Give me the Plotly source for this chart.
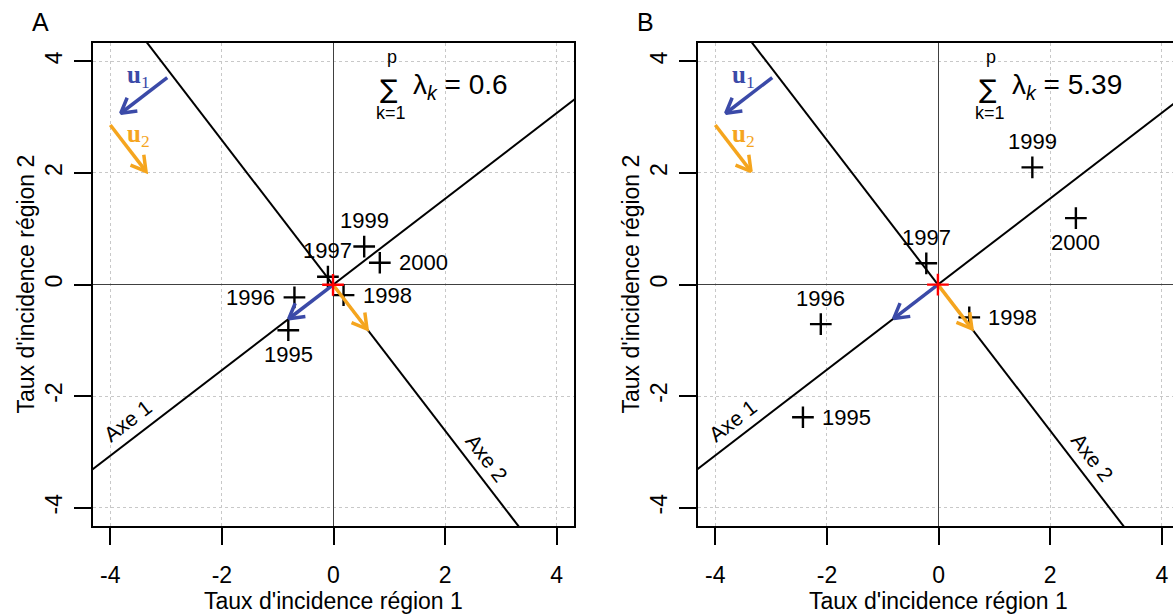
import numpy as np
import plotly.graph_objects as go

# ---------------- data ----------------
years = ["1995", "1996", "1997", "1998", "1999", "2000"]
region1_A = [-0.81, -0.70, -0.10, 0.18, 0.55, 0.83]
region2_A = [-0.82, -0.23, 0.14, -0.19, 0.68, 0.39]
region1_B = [-2.43, -2.11, -0.22, 0.55, 1.68, 2.46]
region2_B = [-2.38, -0.71, 0.38, -0.59, 2.10, 1.19]
sum_lambda = ["0.6", "5.39"]
u1 = [-0.793, -0.609]          # first eigenvector (Axe 1)
u2 = [0.609, -0.793]           # second eigenvector (Axe 2)
tick_vals = [-4, -2, 0, 2, 4]
tick_text = ["-4", "-2", "0", "2", "4"]
panel_letters = ["A", "B"]
x_title = "Taux d'incidence région 1"
y_title = "Taux d'incidence région 2"

# ---------------- styles / positions ----------------
W, H = 1173, 615
FONT = "Liberation Sans, Arial, sans-serif"
SERIF = "Liberation Serif, Times New Roman, serif"
BLUE = "#3B4AA8"
ORANGE = "#F5A51E"
label_pos_A = ["below", "left", "above", "right", "above", "right"]
label_pos_B = ["right", "above", "above", "right", "above", "below"]
sum_x = [1.00, 0.89]
sum_y = 3.49
legend_u1_start = (-2.98, 3.71)
legend_u2_start = (-4.00, 2.86)
legend_len = 1.05

# pixel geometry of panels
top_px, bot_px = 43, 526
xdomA = [93 / W, 574 / W]
xdomB = [698 / W, 1.0]
ydom = [1 - bot_px / H, 1 - top_px / H]
xrangeA = [-4.31, 4.31]
xrangeB = [-4.31, 4.20]
yrange = [-4.33, 4.33]

fig = go.Figure()


def arrow_xy(x0, y0, x1, y1, head=0.3, ang=np.radians(30)):
    dx, dy = x1 - x0, y1 - y0
    L = np.hypot(dx, dy)
    bx, by = -dx / L, -dy / L
    w = []
    for a in (ang, -ang):
        w.append((bx * np.cos(a) - by * np.sin(a), bx * np.sin(a) + by * np.cos(a)))
    xs = [x0, x1, None, x1 + head * w[0][0], x1, x1 + head * w[1][0]]
    ys = [y0, y1, None, y1 + head * w[0][1], y1, y1 + head * w[1][1]]
    return xs, ys


def ann(**kw):
    base = dict(showarrow=False, xanchor="center", yanchor="middle")
    base.update(kw)
    return base


annotations = []
panels = [
    ("x", "y", region1_A, region2_A, label_pos_A, 0),
    ("x2", "y2", region1_B, region2_B, label_pos_B, 1),
]
for xa, ya, px, py, lpos, i in panels:
    mx, my = float(np.mean(px)), float(np.mean(py))
    # principal axes lines
    t = np.array([-12, 12])
    for u in (u1, u2):
        fig.add_trace(go.Scatter(x=mx + t * u[0], y=my + t * u[1], mode="lines",
                                 line=dict(color="black", width=2), xaxis=xa, yaxis=ya,
                                 showlegend=False, hoverinfo="skip"))
    # axis labels along the lines
    for name, ua, ub, tpos, ang in (("Axe 1", u1, u2, 4.40, -37.5), ("Axe 2", u2, u1, 4.15, 52.5)):
        cx = mx + tpos * ua[0] - 0.3 * ub[0]
        cy = my + tpos * ua[1] - 0.3 * ub[1]
        annotations.append(ann(x=cx, y=cy, xref=xa, yref=ya, text=name, textangle=ang,
                               font=dict(family=FONT, size=21, color="black")))
    # points
    fig.add_trace(go.Scatter(x=px, y=py, mode="markers", xaxis=xa, yaxis=ya,
                             marker=dict(symbol="cross-thin", size=15.5,
                                         line=dict(color="black", width=2.4)),
                             showlegend=False))
    # point labels
    for xv, yv, yr, p in zip(px, py, years, lpos):
        d = ann(x=xv, y=yv, xref=xa, yref=ya, text=yr,
                font=dict(family=FONT, size=22, color="black"))
        if p == "above":
            d.update(yshift=26)
        elif p == "below":
            d.update(yshift=-24)
        elif p == "right":
            d.update(xshift=17, xanchor="left")
        else:
            d.update(xshift=-17, xanchor="right")
        annotations.append(d)
    # eigenvector arrows from mean
    for u, col in ((u1, BLUE), (u2, ORANGE)):
        xs, ys = arrow_xy(mx, my, mx + u[0], my + u[1])
        fig.add_trace(go.Scatter(x=xs, y=ys, mode="lines", xaxis=xa, yaxis=ya,
                                 line=dict(color=col, width=3.5), showlegend=False,
                                 hoverinfo="skip"))
    # mean
    fig.add_trace(go.Scatter(x=[mx], y=[my], mode="markers", xaxis=xa, yaxis=ya,
                             marker=dict(symbol="cross-thin", size=15.5,
                                         line=dict(color="red", width=2.4)),
                             showlegend=False))
    # legend arrows (top-left)
    for st, u, col, lab, lx, ly in ((legend_u1_start, u1, BLUE, "1", -3.49, 3.73),
                                    (legend_u2_start, u2, ORANGE, "2", -3.49, 2.68)):
        xs, ys = arrow_xy(st[0], st[1], st[0] + legend_len * u[0], st[1] + legend_len * u[1])
        fig.add_trace(go.Scatter(x=xs, y=ys, mode="lines", xaxis=xa, yaxis=ya,
                                 line=dict(color=col, width=3.5), showlegend=False,
                                 hoverinfo="skip"))
        annotations.append(ann(x=lx, y=ly, xref=xa, yref=ya,
                               text="<b>u</b><sub>" + lab + "</sub>",
                               font=dict(family=SERIF, size=25, color=col)))
    # sum of eigenvalues
    sx = sum_x[i]
    annotations.append(ann(x=sx, y=sum_y, xref=xa, yref=ya, text="∑", yshift=1,
                           font=dict(family="DejaVu Sans", size=26, color="black")))
    annotations.append(ann(x=sx, y=sum_y, xref=xa, yref=ya, text="p",
                           xshift=3, yshift=33, font=dict(family=FONT, size=18, color="black")))
    annotations.append(ann(x=sx, y=sum_y, xref=xa, yref=ya, text="k=1",
                           xshift=2, yshift=-23, font=dict(family=FONT, size=18, color="black")))
    annotations.append(ann(x=sx, y=sum_y, xref=xa, yref=ya,
                           text="λ<sub><i>k</i></sub> = " + sum_lambda[i],
                           xanchor="left", xshift=22, yshift=3,
                           font=dict(family=FONT, size=28, color="black")))
    # panel letter
    annotations.append(ann(x=(40 + 605 * i) / W, y=1 - 22 / H, xref="paper", yref="paper",
                           text=panel_letters[i],
                           font=dict(family=FONT, size=25, color="black")))
    # axis titles
    annotations.append(ann(x=(333.5 + 605 * i) / W, y=1 - 601 / H, xref="paper", yref="paper",
                           text=x_title, font=dict(family=FONT, size=23, color="black")))
    annotations.append(ann(x=(25 + 605 * i) / W, y=1 - 284.5 / H, xref="paper", yref="paper",
                           text=y_title, textangle=-90,
                           font=dict(family=FONT, size=23, color="black")))

common_axis = dict(
    tickmode="array", tickvals=tick_vals, ticktext=tick_text,
    ticks="outside", ticklen=17, tickwidth=2, tickcolor="black",
    showline=True, linecolor="black", linewidth=2,
    showgrid=True, gridcolor="#C8C8C8", gridwidth=1, griddash="dot",
    zeroline=True, zerolinecolor="#404040", zerolinewidth=1,
    tickfont=dict(family=FONT, size=23, color="black"),
    fixedrange=True,
)

fig.update_layout(
    width=W, height=H,
    margin=dict(l=0, r=0, t=0, b=0),
    paper_bgcolor="white", plot_bgcolor="white",
    showlegend=False,
    annotations=annotations,
    xaxis=dict(domain=xdomA, range=xrangeA, anchor="y", mirror=True,
               ticklabelstandoff=10, **common_axis),
    yaxis=dict(domain=ydom, range=yrange, anchor="x", mirror=True,
               tickangle=-90, ticklabelstandoff=3, **common_axis),
    xaxis2=dict(domain=xdomB, range=xrangeB, anchor="y2", mirror=True,
                ticklabelstandoff=10, **common_axis),
    yaxis2=dict(domain=ydom, range=yrange, anchor="x2", mirror=False,
                tickangle=-90, ticklabelstandoff=3, **common_axis),
)

fig.write_html("out.html", config={"displayModeBar": False},
               post_script="document.body.style.margin='0px';")
